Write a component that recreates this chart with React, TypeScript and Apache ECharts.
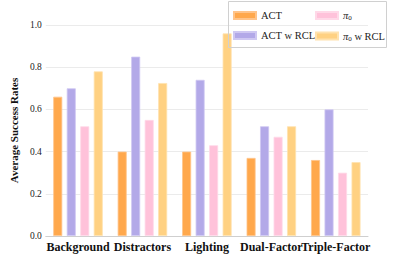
import React, { useEffect, useRef } from "react";
import * as echarts from "echarts";

const categories = ["Background", "Distractors", "Lighting", "Dual-Factor", "Triple-Factor"];
const seriesNames = ["ACT", "ACT w RCL", "π0", "π0 w RCL"];
const actValues = [0.66, 0.4, 0.4, 0.37, 0.36];
const actRclValues = [0.7, 0.85, 0.74, 0.52, 0.6];
const pi0Values = [0.52, 0.55, 0.43, 0.47, 0.3];
const pi0RclValues = [0.78, 0.725, 0.96, 0.52, 0.35];
const yTicks = [0, 0.2, 0.4, 0.6, 0.8, 1.0];

const colors = ["#FFA84C", "#B3A9E8", "#FFC2DA", "#FFD182"];
const borders = ["#FFC48A", "#CFC8F2", "#FFD9E8", "#FFE2AE"];
const FONT = "Liberation Serif";

export default function App() {
  const ref = useRef<HTMLDivElement>(null);
  useEffect(() => {
    if (!ref.current) return;
    const chart = echarts.init(ref.current, undefined, { renderer: "svg" });
    const values = [actValues, actRclValues, pi0Values, pi0RclValues];
    const legendFormatter = (name: string) => {
      if (name.startsWith("π0")) {
        const rest = name.slice(2);
        return "{i|π}{s|0}" + (rest ? "{n|" + rest + "}" : "");
      }
      return "{n|" + name + "}";
    };
    const rich = {
      n: { fontFamily: FONT, fontSize: 10.5, color: "#222" },
      i: { fontFamily: FONT, fontSize: 10.5, fontStyle: "italic", color: "#222" },
      s: { fontFamily: FONT, fontSize: 7, color: "#222", padding: [5, 0, 0, 0] },
    };
    const legendCommon = {
      orient: "vertical" as const,
      top: 5,
      itemWidth: 22,
      itemHeight: 7,
      itemGap: 9,
      icon: "rect",
      formatter: legendFormatter,
      textStyle: { fontFamily: FONT, fontSize: 10.5, color: "#222", rich },
    };
    chart.setOption({
      animation: false,
      backgroundColor: "#fff",
      textStyle: { fontFamily: FONT },
      grid: { left: 38, right: 28, top: 25, bottom: 18 },
      legend: [
        { ...legendCommon, left: 228, data: ["ACT", "ACT w RCL"] },
        { ...legendCommon, left: 310, data: ["π0", "π0 w RCL"] },
      ],
      graphic: [
        {
          type: "rect",
          shape: { x: 228.5, y: 1.5, width: 158, height: 46 },
          style: { fill: "none", stroke: "#d0d0d0", lineWidth: 1 },
          z: 10,
        },
      ],
      xAxis: {
        type: "category",
        data: categories,
        axisTick: { show: false },
        axisLine: { lineStyle: { color: "#cfcfcf" } },
        axisLabel: {
          interval: 0,
          fontFamily: FONT,
          fontWeight: "bold",
          fontSize: 12,
          color: "#111",
          margin: 5,
        },
      },
      yAxis: {
        type: "value",
        min: 0,
        max: 1,
        interval: 0.2,
        name: "Average Success Rates",
        nameLocation: "middle",
        nameGap: 21,
        nameTextStyle: { fontFamily: FONT, fontWeight: "bold", fontSize: 11, color: "#111" },
        axisLine: { show: false },
        axisTick: { show: false },
        splitLine: { lineStyle: { color: "#ebebeb" } },
        axisLabel: {
          fontFamily: FONT,
          fontSize: 9.5,
          color: "#222",
          margin: 4,
          formatter: (v: number) => (yTicks.includes(Math.round(v * 10) / 10) ? v.toFixed(1) : ""),
        },
      },
      series: seriesNames.map((name, i) => ({
        name,
        type: "bar",
        data: values[i],
        barWidth: 9,
        barGap: "50%",
        itemStyle: { color: colors[i], borderColor: borders[i], borderWidth: 0.8 },
      })),
    });
    return () => chart.dispose();
  }, []);
  return <div ref={ref} style={{ width: 396, height: 254, position: "absolute", left: 0, top: 0 }} />;
}
